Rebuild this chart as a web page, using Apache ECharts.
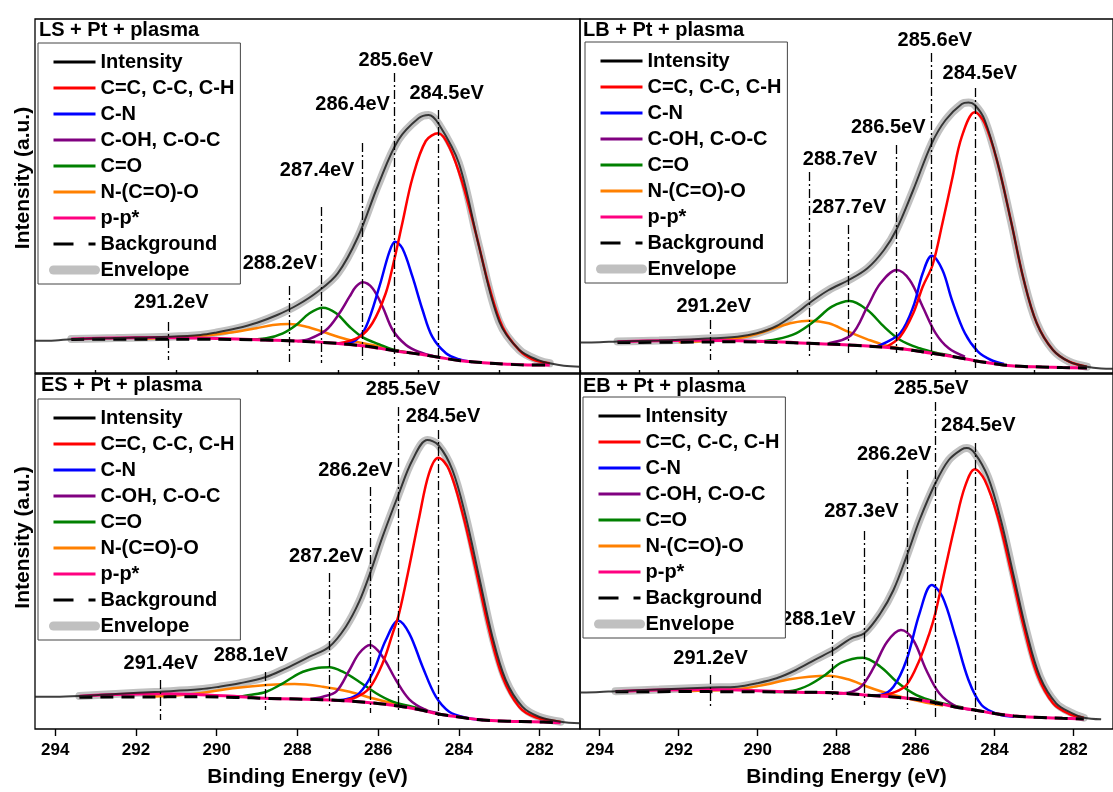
<!DOCTYPE html>
<html>
<head>
<meta charset="utf-8">
<title>C1s spectra, Pt + plasma</title>
<script src="https://cdn.jsdelivr.net/npm/echarts@6.0.0/dist/echarts.min.js"></script>
<style>
  html, body { margin: 0; background: #fff; }
  #chart { width: 1113px; height: 792px; }
</style>
</head>
<body>
<div id="chart"></div>
<script>
// ---- axis ticks ----
var evenTicks = [282, 284, 286, 288, 290, 292, 294];
var oddTicks = [281, 283, 285, 287, 289, 291, 293];

// ---- LS + Pt + plasma : [binding energy eV, intensity a.u.] ----
var lsIntensity = [[294.5,32.3],[294.0,32.6],[293.6,33.8],[292.5,35],[291.2,36.3],[290.4,38],[290.0,40.5],[289.5,44.7],[289.0,50.3],[288.5,58],[288.0,68],[287.5,81.3],[287.0,99.7],[286.5,136],[286.0,188],[285.5,233],[285.0,254.7],[284.75,258],[284.5,249],[284.0,209.7],[283.5,126.3],[283.0,51.3],[282.5,23],[282.0,12.3],[281.75,9.7],[281.4,7.3],[281.0,6.3]];
var lsEnvelope = [[293.6,34],[292.5,35],[291.2,36.3],[290.4,38],[290.0,40.5],[289.5,44.7],[289.0,50.3],[288.5,58],[288.0,68],[287.5,81.3],[287.0,99.7],[286.5,136],[286.0,188],[285.5,233],[285.0,254.7],[284.75,258],[284.5,249],[284.0,209.7],[283.5,126.3],[283.0,51.3],[282.5,23],[282.0,12.3],[281.75,9.7]];
var lsBackground = [[293.6,33.6],[292.0,33.8],[290.4,33.8],[289.5,33.5],[288.8,33],[288.2,32.3],[287.4,30.7],[286.4,27.3],[285.6,22.3],[285.0,19],[284.5,15.7],[284.0,12.5],[283.4,10.3],[282.8,8.8],[282.2,8],[281.75,8]];
var lsCC = [[287.0,29.5],[286.47,36],[286.14,50],[285.81,80],[285.62,110],[285.4,150],[285.15,195],[284.82,232],[284.51,239.7],[284.24,226.3],[283.91,189.7],[283.58,139.7],[283.25,86.3],[282.92,46.3],[282.51,23],[282.18,13.7],[281.75,9.7]];
var lsCN = [[286.8,29.5],[286.55,33],[286.3,46.3],[285.97,86.3],[285.72,121.3],[285.58,131.3],[285.4,124.7],[285.15,96.3],[284.9,63],[284.66,36.3],[284.32,19.7],[284.0,13.7],[283.67,11]];
var lsCOH = [[288.0,31.8],[287.7,34.2],[287.29,43],[286.96,59.7],[286.71,76.3],[286.55,86.3],[286.38,90.7],[286.14,84.7],[285.89,66.3],[285.64,43],[285.31,28],[284.98,21],[284.6,16.5]];
var lsCO = [[289.3,33.4],[288.77,34.7],[288.36,39.7],[288.03,48],[287.7,59.7],[287.37,65.3],[287.04,59.7],[286.71,46.3],[286.38,35.7],[285.97,28.7],[285.64,23.5],[285.2,20]];
var lsNCOO = [[292.0,34],[291.2,35.3],[290.42,37],[289.6,40.7],[289.02,44.7],[288.61,48],[288.2,49],[287.78,46.3],[287.37,41.3],[286.96,35.7],[286.55,31.3],[286.14,28],[285.72,23.7],[285.3,20.5]];
var lsPP = [[293.6,34],[292.5,35],[291.5,35.5],[290.5,35],[289.5,34],[288.8,33],[288.2,32.3],[287.4,30.7],[286.4,27.3],[285.6,22.3],[285.0,19],[284.5,15.7],[284.0,12.5],[283.4,10.3],[282.8,8.8],[282.2,8],[281.75,8]];
var lsPeakLabels = ['284.5eV', '285.6eV', '286.4eV', '287.4eV', '288.2eV', '291.2eV'];
var lsPeakEnergy = [284.5, 285.6, 286.4, 287.4, 288.2, 291.2];

// ---- LB + Pt + plasma ----
var lbIntensity = [[294.5,30.5],[294.0,30.8],[293.55,31.5],[292.5,32.5],[291.5,34],[290.51,36.3],[290.02,39.7],[289.52,47],[289.03,59.7],[288.7,69.7],[288.2,83],[287.69,93],[287.22,104.7],[286.8,123],[286.49,143],[286.06,183],[285.59,229.7],[285.24,253],[284.83,269],[284.66,270.5],[284.5,268],[284.25,253],[283.92,209.7],[283.59,153],[283.26,93],[282.93,49.7],[282.52,23],[282.11,11.3],[281.66,6.3],[281.3,4.5],[281.0,4.2]];
var lbEnvelope = [[293.55,31.5],[292.5,32.5],[291.5,34],[290.51,36.3],[290.02,39.7],[289.52,47],[289.03,59.7],[288.7,69.7],[288.2,83],[287.69,93],[287.22,104.7],[286.8,123],[286.49,143],[286.06,183],[285.59,229.7],[285.24,253],[284.83,269],[284.66,270.5],[284.5,268],[284.25,253],[283.92,209.7],[283.59,153],[283.26,93],[282.93,49.7],[282.52,23],[282.11,11.3],[281.66,6.3]];
var lbBackground = [[293.55,30.5],[292.0,30.8],[290.51,31.2],[289.5,30.6],[288.7,29.7],[287.69,28],[286.49,24.7],[285.59,19.7],[285.0,16],[284.5,12.3],[284.0,9.3],[283.51,7],[282.8,6],[282.28,5.5],[281.66,5]];
var lbCC = [[286.75,26],[286.39,36.3],[286.06,59.7],[285.82,86.3],[285.57,108],[285.32,149.7],[285.08,193],[284.83,236.3],[284.5,260.7],[284.25,249.7],[283.92,209.7],[283.59,153],[283.26,93],[282.93,49.7],[282.52,23],[282.11,11.3],[281.66,6.3]];
var lbCN = [[287.0,26.3],[286.8,29.7],[286.39,39.7],[286.06,66.3],[285.82,99.7],[285.59,117.3],[285.32,103],[285.08,73],[284.75,39.7],[284.42,21.3],[284.09,13],[283.76,9]];
var lbCOH = [[288.2,29.8],[287.63,38],[287.22,66.3],[286.89,89.7],[286.48,103],[286.15,93],[285.82,66.3],[285.49,39.7],[285.16,24.7],[284.75,16.3]];
var lbCO = [[290.0,31.2],[289.52,33.7],[289.03,39.7],[288.53,53],[288.12,66.3],[287.67,72],[287.22,63],[286.8,46.3],[286.39,33],[285.9,24.7],[285.49,20.3],[285.1,17.5]];
var lbNCOO = [[292.0,31],[291.2,32.3],[290.51,34.7],[290.02,39],[289.52,45.7],[289.11,50.3],[288.7,52.3],[288.2,49.7],[287.71,41.3],[287.22,33.7],[286.8,28],[286.39,24.7],[286.0,22.5]];
var lbPP = [[293.55,31.3],[292.5,32.3],[291.5,32.8],[290.5,32.3],[289.5,31.2],[288.7,29.7],[287.69,28],[286.49,24.7],[285.59,19.7],[285.0,16],[284.5,12.3],[284.0,9.3],[283.51,7],[282.8,6],[282.28,5.5],[281.66,5]];
var lbPeakLabels = ['284.5eV', '285.6eV', '286.5eV', '287.7eV', '288.7eV', '291.2eV'];
var lbPeakEnergy = [284.5, 285.6, 286.5, 287.7, 288.7, 291.2];

// ---- ES + Pt + plasma ----
var esIntensity = [[294.5,32.3],[294.0,32.3],[293.4,33],[292.5,35],[291.4,37.3],[290.42,39.7],[289.93,42.3],[289.43,45.7],[288.8,51.7],[288.28,60.7],[287.7,72.3],[287.21,82.3],[286.8,102.3],[286.47,127.3],[286.2,155.7],[285.89,192.3],[285.5,234],[285.15,269],[284.78,289],[284.51,284],[284.16,259],[283.83,212.3],[283.5,152.3],[283.17,92.3],[282.84,49],[282.43,22.3],[282.02,12.3],[281.48,7.3],[281.0,5.7]];
var esEnvelope = [[293.4,33],[292.5,35],[291.4,37.3],[290.42,39.7],[289.93,42.3],[289.43,45.7],[288.8,51.7],[288.28,60.7],[287.7,72.3],[287.21,82.3],[286.8,102.3],[286.47,127.3],[286.2,155.7],[285.89,192.3],[285.5,234],[285.15,269],[284.78,289],[284.51,284],[284.16,259],[283.83,212.3],[283.5,152.3],[283.17,92.3],[282.84,49],[282.43,22.3],[282.02,12.3],[281.48,7.3]];
var esBackground = [[293.4,31.8],[292.0,32],[290.42,32.2],[289.5,31.6],[288.8,30.7],[287.21,29],[286.2,26.3],[285.5,23],[285.0,19.5],[284.51,15],[284.0,12],[283.42,9],[282.8,7.8],[282.18,7.3],[281.48,6.3]];
var esCC = [[286.9,28.3],[286.55,31.7],[286.22,40.7],[285.89,65.7],[285.64,95.7],[285.48,115.7],[285.23,162.3],[284.98,212.3],[284.74,255.7],[284.51,271.3],[284.24,259],[283.91,215.7],[283.58,159],[283.25,99],[282.92,52.3],[282.51,22.3],[282.1,11.7],[281.48,7.3]];
var esCN = [[287.1,28.5],[286.8,29.7],[286.47,35.7],[286.14,55.7],[285.81,89],[285.5,108.3],[285.23,95.7],[284.9,62.3],[284.57,32.3],[284.24,17.3],[283.83,11.3],[283.4,9]];
var esCOH = [[287.7,29.8],[287.37,32.3],[287.04,37.3],[286.71,59],[286.47,75.7],[286.2,84],[285.89,72.3],[285.56,49],[285.23,29.7],[284.82,19],[284.49,15.7]];
var esCO = [[289.6,31.5],[289.18,34],[288.77,37.3],[288.36,45.7],[287.95,55.7],[287.54,60.7],[287.21,61.7],[286.88,57.3],[286.47,47.3],[286.05,35.7],[285.64,27.3],[285.23,23],[284.8,18.5]];
var esNCOO = [[291.8,32.2],[291.0,33.5],[290.42,35.7],[289.6,40.7],[288.77,44],[288.07,45],[287.37,42.3],[286.71,37.3],[286.14,30.7],[285.64,25.7],[285.23,22.3],[284.8,19]];
var esPP = [[293.4,32.8],[292.5,34.5],[291.4,35.3],[290.4,34.3],[289.5,32.5],[288.8,30.7],[287.21,29],[286.2,26.3],[285.5,23],[285.0,19.5],[284.51,15],[284.0,12],[283.42,9],[282.8,7.8],[282.18,7.3],[281.48,6.3]];
var esPeakLabels = ['284.5eV', '285.5eV', '286.2eV', '287.2eV', '288.1eV', '291.4eV'];
var esPeakEnergy = [284.5, 285.5, 286.2, 287.2, 288.8, 291.4];

// ---- EB + Pt + plasma ----
var ebIntensity = [[294.5,36.5],[294.0,37],[293.6,37.8],[292.5,39.5],[291.2,41.5],[290.51,42.3],[290.02,45.7],[289.52,50.7],[289.03,59],[288.53,69.7],[288.08,79],[287.63,90.7],[287.3,95.7],[286.89,115.7],[286.56,139],[286.2,175.7],[285.9,209],[285.5,245.7],[285.16,269],[284.83,279.7],[284.7,281],[284.5,275.7],[284.17,252.3],[283.84,209],[283.51,152.3],[283.18,95.7],[282.85,52.3],[282.44,25.7],[282.03,15.7],[281.74,11.3],[281.3,9.7]];
var ebEnvelope = [[293.6,37.8],[292.5,39.5],[291.2,41.5],[290.51,42.3],[290.02,45.7],[289.52,50.7],[289.03,59],[288.53,69.7],[288.08,79],[287.63,90.7],[287.3,95.7],[286.89,115.7],[286.56,139],[286.2,175.7],[285.9,209],[285.5,245.7],[285.16,269],[284.83,279.7],[284.7,281],[284.5,275.7],[284.17,252.3],[283.84,209],[283.51,152.3],[283.18,95.7],[282.85,52.3],[282.44,25.7],[282.03,15.7],[281.74,11.3]];
var ebBackground = [[293.6,37.2],[292.0,37.4],[290.51,37.3],[289.5,37],[288.08,36.3],[287.3,34],[286.2,30.7],[285.5,26.3],[285.0,22],[284.5,19],[284.0,15.5],[283.51,13],[282.8,11.5],[282.28,10.7],[281.74,10]];
var ebCC = [[286.9,33.2],[286.56,36.3],[286.23,44],[285.9,69],[285.65,95.7],[285.5,115.7],[285.24,162.3],[284.99,205.7],[284.75,242.3],[284.5,259.7],[284.25,249],[283.92,212.3],[283.59,159],[283.26,102.3],[282.93,55.7],[282.52,25.7],[282.11,15],[281.74,11.3]];
var ebCN = [[287.1,33.5],[286.89,34],[286.56,42.3],[286.23,69],[285.9,115.7],[285.59,144],[285.32,132.3],[284.99,92.3],[284.66,49],[284.33,24],[283.92,15],[283.51,12.3]];
var ebCOH = [[288.0,35.5],[287.71,36.3],[287.38,42.3],[287.05,62.3],[286.72,87.3],[286.37,99],[286.06,89],[285.73,59],[285.4,35.7],[284.99,23],[284.58,19]];
var ebCO = [[289.6,37.1],[289.11,38.3],[288.7,44],[288.29,54],[287.88,66.3],[287.34,71.3],[286.89,62.3],[286.48,47.3],[286.06,35.7],[285.65,29],[285.24,25],[284.8,21.5]];
var ebNCOO = [[292.0,37.6],[291.2,38.6],[290.51,39.7],[289.85,44],[289.19,49.7],[288.7,52.3],[288.2,53.3],[287.71,49.7],[287.22,42.3],[286.72,35.7],[286.23,30.7],[285.73,26.3],[285.3,23.5]];
var ebPP = [[293.6,37.6],[292.5,39],[291.2,39.5],[290.5,39],[289.5,37.6],[288.8,36.6],[288.08,36.3],[287.3,34],[286.2,30.7],[285.5,26.3],[285.0,22],[284.5,19],[284.0,15.5],[283.51,13],[282.8,11.5],[282.28,10.7],[281.74,10]];
var ebPeakLabels = ['284.5eV', '285.5eV', '286.2eV', '287.3eV', '288.1eV', '291.2eV'];
var ebPeakEnergy = [284.5, 285.5, 286.2, 287.3, 288.1, 291.2];

// annotation layout (label x, label y, marker top, marker bottom) in axis units
var lsPeakLayout = [[284.29,279.5,263,3],[285.55,312,300,7],[286.62,268.5,230,13],[287.5,202,166,10],[288.42,109,87,11],[291.11,70.5,51,13]];
var lbPeakLayout = [[284.36,299,285,5],[285.5,332,320,13],[286.68,245.5,228,20],[287.67,165.5,148,18],[287.9,213,201,14],[291.1,66.5,53,13]];
var esPeakLayout = [[284.38,312,299,4],[285.37,339,322,18],[286.55,258.5,242,16],[287.27,172,156,21],[289.14,73,57,19],[291.37,65,49,9]];
var ebPeakLayout = [[284.4,303,286,9],[285.59,340,327,12],[286.53,274,259,20],[287.36,217,198,24],[288.45,109,99,29],[291.18,70,54,22]];

var FONT = '"Liberation Sans", Arial, sans-serif';

var panels = [
  { title: 'LS + Pt + plasma', titleAt: [39, 30], grid: { left: 35, top: 19, width: 545, height: 354 }, yMax: 354, bottomRow: false, legendAt: [38, 43],
    intensity: lsIntensity, envelope: lsEnvelope, bg: lsBackground, cc: lsCC, cn: lsCN, coh: lsCOH, co: lsCO, ncoo: lsNCOO, pp: lsPP,
    labels: lsPeakLabels, energy: lsPeakEnergy, layout: lsPeakLayout },
  { title: 'LB + Pt + plasma', titleAt: [583, 30], grid: { left: 580, top: 19, width: 546, height: 354 }, yMax: 354, bottomRow: false, legendAt: [585, 42],
    intensity: lbIntensity, envelope: lbEnvelope, bg: lbBackground, cc: lbCC, cn: lbCN, coh: lbCOH, co: lbCO, ncoo: lbNCOO, pp: lbPP,
    labels: lbPeakLabels, energy: lbPeakEnergy, layout: lbPeakLayout },
  { title: 'ES + Pt + plasma', titleAt: [41, 385], grid: { left: 35, top: 374, width: 545, height: 355 }, yMax: 355, bottomRow: true, legendAt: [38, 399],
    intensity: esIntensity, envelope: esEnvelope, bg: esBackground, cc: esCC, cn: esCN, coh: esCOH, co: esCO, ncoo: esNCOO, pp: esPP,
    labels: esPeakLabels, energy: esPeakEnergy, layout: esPeakLayout },
  { title: 'EB + Pt + plasma', titleAt: [583, 386], grid: { left: 580, top: 374, width: 546, height: 355 }, yMax: 355, bottomRow: true, legendAt: [583, 397],
    intensity: ebIntensity, envelope: ebEnvelope, bg: ebBackground, cc: ebCC, cn: ebCN, coh: ebCOH, co: ebCO, ncoo: ebNCOO, pp: ebPP,
    labels: ebPeakLabels, energy: ebPeakEnergy, layout: ebPeakLayout }
];

var legendItems = [
  { name: 'Intensity', lineStyle: { color: '#000', width: 3, opacity: 1 } },
  { name: 'C=C, C-C, C-H', lineStyle: { color: '#ff0000', width: 3 } },
  { name: 'C-N', lineStyle: { color: '#0000ff', width: 3 } },
  { name: 'C-OH, C-O-C', lineStyle: { color: '#800080', width: 3 } },
  { name: 'C=O', lineStyle: { color: '#008000', width: 3 } },
  { name: 'N-(C=O)-O', lineStyle: { color: '#ff8000', width: 3 } },
  { name: 'p-p*', lineStyle: { color: '#ff0080', width: 3 } },
  { name: 'Background', lineStyle: { color: '#000', width: 3, type: [20, 15] } },
  { name: 'Envelope', lineStyle: { color: '#c0c0c0', width: 9, cap: 'round' } }
];

function line(name, data, i, style) {
  return {
    name: name, type: 'line', xAxisIndex: 2 * i, yAxisIndex: i, data: data,
    symbol: 'none', showSymbol: false, smooth: 0.35,
    lineStyle: style, silent: true, animation: false
  };
}

var grids = [], xAxes = [], yAxes = [], legends = [], series = [], graphics = [];

panels.forEach(function (p, i) {
  grids.push(Object.assign({ show: true, borderColor: '#000', borderWidth: 1.3, backgroundColor: 'transparent' }, p.grid));

  xAxes.push({
    gridIndex: i, type: 'value', min: 281, max: 294.5, inverse: true,
    name: p.bottomRow ? 'Binding Energy (eV)' : '', nameLocation: 'middle', nameGap: 38,
    nameTextStyle: { fontFamily: FONT, fontSize: 21, fontWeight: 'bold', color: '#000' },
    axisLine: { show: false },
    axisTick: { show: p.bottomRow, customValues: evenTicks, length: 7, lineStyle: { color: '#000', width: 1.4 } },
    axisLabel: { show: p.bottomRow, customValues: evenTicks, margin: 13, fontFamily: FONT, fontSize: 17, fontWeight: 'bold', color: '#000' },
    splitLine: { show: false }
  });
  xAxes.push({
    gridIndex: i, type: 'value', min: 281, max: 294.5, inverse: true,
    axisLine: { show: false },
    axisTick: { show: p.bottomRow, customValues: oddTicks, length: 4, lineStyle: { color: '#000', width: 1.4 } },
    axisLabel: { show: false }, splitLine: { show: false }
  });
  yAxes.push({ gridIndex: i, type: 'value', min: 0, max: p.yMax, show: false });

  legends.push({
    left: p.legendAt[0], top: p.legendAt[1], orient: 'vertical',
    padding: [9, 6, 4, 11], itemGap: 6, itemWidth: 42, itemHeight: 14,
    backgroundColor: '#fff', borderColor: '#444', borderWidth: 1,
    selectedMode: false, itemStyle: { opacity: 0 },
    textStyle: { fontFamily: FONT, fontSize: 20, fontWeight: 'bold', color: '#000' },
    data: legendItems
  });

  series.push(line('Envelope', p.envelope, i, { color: '#c0c0c0', width: 8, cap: 'round' }));
  series.push(line('N-(C=O)-O', p.ncoo, i, { color: '#ff8000', width: 2.5 }));
  series.push(line('C=O', p.co, i, { color: '#008000', width: 2.5 }));
  series.push(line('C-OH, C-O-C', p.coh, i, { color: '#800080', width: 2.5 }));
  series.push(line('C-N', p.cn, i, { color: '#0000ff', width: 2.5 }));
  series.push(line('C=C, C-C, C-H', p.cc, i, { color: '#ff0000', width: 2.5 }));
  series.push(line('p-p*', p.pp, i, { color: '#ff0080', width: 3 }));

  var bgSeries = line('Background', p.bg, i, { color: '#000', width: 3, type: [13, 8] });
  bgSeries.markLine = {
    silent: true, symbol: ['none', 'none'], label: { show: false }, animation: false,
    lineStyle: { color: '#000', width: 1.3, type: [9, 3, 2, 3] },
    data: p.energy.map(function (e, k) {
      return [{ coord: [e, p.layout[k][2]] }, { coord: [e, p.layout[k][3]] }];
    })
  };
  series.push(bgSeries);

  series.push(line('Intensity', p.intensity, i, { color: '#1c1c1c', width: 2, opacity: 0.85 }));

  series.push({
    type: 'scatter', xAxisIndex: 2 * i, yAxisIndex: i, symbolSize: 1, silent: true, animation: false,
    itemStyle: { color: 'rgba(0,0,0,0)', opacity: 1 },
    label: { show: true, position: [0, 0], align: 'center', verticalAlign: 'middle', formatter: '{b}',
             fontFamily: FONT, fontSize: 20, fontWeight: 'bold', color: '#000', opacity: 1 },
    data: p.labels.map(function (t, k) { return { name: t, value: [p.layout[k][0], p.layout[k][1]] }; })
  });

  graphics.push({
    type: 'text', x: p.titleAt[0], y: p.titleAt[1], silent: true,
    style: { text: p.title, fontFamily: FONT, fontSize: 20, fontWeight: 'bold', fill: '#000', align: 'left', verticalAlign: 'middle' }
  });
});

[178, 537.5].forEach(function (y) {
  graphics.push({
    type: 'text', x: 23, y: y, rotation: Math.PI / 2, silent: true,
    style: { text: 'Intensity (a.u.)', fontFamily: FONT, fontSize: 21, fontWeight: 'bold', fill: '#000', align: 'center', verticalAlign: 'middle' }
  });
});

var chart = echarts.init(document.getElementById('chart'));
chart.setOption({
  backgroundColor: '#fff',
  animation: false,
  grid: grids,
  xAxis: xAxes,
  yAxis: yAxes,
  legend: legends,
  series: series,
  graphic: graphics
});
</script>
</body>
</html>
